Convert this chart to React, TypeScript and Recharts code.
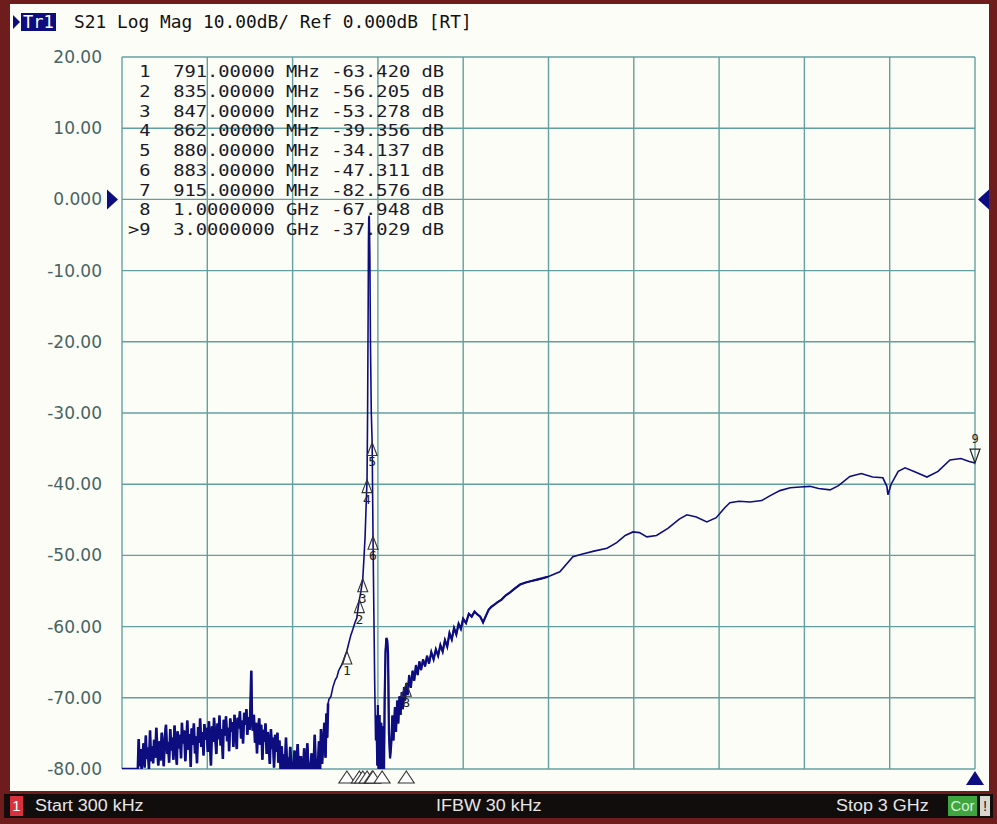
import React from 'react'
import { ComposedChart, Line, Scatter, XAxis, YAxis, CartesianGrid, ReferenceDot } from 'recharts'

// S21 sweep: [frequency MHz, magnitude dB]
const noiseFloor: [number, number][] = [
  [0.3, -80], [45, -80], [56, -80], [59, -75.8], [62, -79.6], [66, -77.2], [69, -80], [73, -78.1],
  [76, -76.4], [80, -79.8], [84, -75.3], [87, -78.6], [91, -77], [95, -80], [99, -74.6], [102, -78.9],
  [106, -76.8], [110, -79.2], [113, -75.9], [117, -78.4], [121, -74.2], [125, -77.6], [128, -79.5],
  [132, -76.1], [136, -78.8], [140, -74.9], [144, -77.3], [147, -79.6], [151, -75.5], [155, -73.8],
  [159, -77.9], [162, -76.2], [166, -79.1], [170, -74.4], [174, -77.4], [177, -75.6], [181, -78.7],
  [185, -73.9], [189, -76.8], [193, -79.4], [196, -74.7], [200, -77.1], [204, -75.2], [208, -78.5],
  [211, -73.5], [215, -76.4], [219, -74.6], [223, -78.9], [227, -75.8], [230, -73.2], [234, -77.3],
  [238, -75.1], [242, -79.7], [245, -74.3], [249, -76.6], [253, -73.6], [257, -77.8], [260, -75.4],
  [264, -79.2], [268, -74.1], [272, -76.3], [275, -72.9], [279, -76.9], [283, -74.8], [287, -78.1],
  [290, -73.7], [294, -75.9], [298, -74.2], [302, -77.6], [306, -73.3], [309, -75.6], [313, -79.5],
  [317, -74], [321, -76.2], [324, -72.8], [328, -75.4], [332, -77.9], [336, -73.6], [340, -75.8],
  [343, -72.5], [347, -76.7], [351, -74.4], [355, -78.6], [358, -73.1], [362, -75.3], [366, -72.6],
  [370, -76.1], [374, -74.2], [377, -77.5], [381, -72.9], [385, -74.8], [389, -73.4], [392, -76.9],
  [396, -72.4], [400, -74.6], [404, -77.2], [407, -72.8], [411, -74.3], [415, -71.9], [419, -75.7],
  [423, -73.2], [426, -76.4], [430, -72.1], [434, -73.8], [438, -71.6], [441, -75.2], [445, -72.7],
  [449, -74.5], [452, -71.3], [455, -66.2], [457, -72.9], [460, -74.6], [464, -72.4], [468, -76.3],
  [471, -73.5], [475, -77.8], [479, -74.2], [483, -72.9], [486, -76.6], [490, -73.8], [494, -78.7],
  [498, -74.5], [501, -76.2], [505, -73.6], [509, -77.9], [513, -74.8], [516, -76.1], [520, -79.3],
  [524, -74.4], [528, -77.2], [531, -75.6], [535, -79.8], [539, -75.2], [543, -77.6], [547, -74.9],
  [550, -79.1], [554, -76], [558, -80], [562, -76.8], [565, -80], [569, -77.9], [573, -80],
  [577, -75.6], [581, -80], [584, -78.4], [588, -80], [592, -76.9], [596, -80], [599, -79],
  [603, -80], [607, -77.4], [611, -80], [614, -80], [618, -76.5], [622, -80], [626, -80.8],
  [629, -78.2], [633, -80], [637, -80], [641, -77.1], [644, -80], [648, -80], [652, -76.4],
  [656, -80], [659, -79.2], [663, -80], [667, -77.8], [671, -80], [674, -80], [678, -75.2],
  [682, -80], [686, -78.6], [689, -80], [693, -76.1], [697, -80], [700, -74.4], [704, -79.3],
  [708, -76.2], [712, -73.5], [716, -78.4], [719, -72.2], [722, -75.6], [725, -70.8],
]

const filterSkirt: [number, number][] = [
  [728, -70.2], [735, -69.8], [742, -68.5], [750, -67.5], [756, -67.1], [762, -66.2], [770, -65.6],
  [777, -65.1], [784, -64.2], [791, -63.42], [798, -62.3], [805, -61.2], [812, -60.4], [820, -59.4],
  [826, -58.8], [830, -57.6], [835, -56.205], [840, -55.2], [847, -53.278], [851, -50.5],
  [855, -47.5], [858, -44], [862, -39.356], [864, -30], [866, -15], [867, -6], [868, -2.6],
  [870, -2.3], [872, -8], [874, -20], [877, -30], [880, -34.137], [883, -47.311], [886, -58],
  [889, -68], [892, -76],
]

const stopbandNoise: [number, number][] = [
  [895, -72.5], [898, -79.5], [900, -71], [903, -81], [906, -72.4], [909, -83], [912, -73.5],
  [915, -82.576], [918, -74], [921, -84], [924, -70], [927, -63.5], [930, -61.6], [933, -61.9],
  [936, -63.8], [939, -75], [943, -78.5], [947, -76.6], [951, -72.5], [955, -76], [960, -71.3],
  [964, -74.8], [968, -70.4], [972, -73.6], [976, -69.8], [980, -72.4], [984, -69.2], [988, -71.6],
  [992, -68.5], [996, -70.4], [1000, -67.948], [1005, -69.6], [1010, -66.8], [1016, -68.6],
  [1022, -66.2], [1028, -67.6], [1034, -65.4], [1040, -66.8], [1046, -64.9], [1052, -66.1],
  [1059, -64.6], [1066, -65.6], [1073, -64.1], [1080, -65.2], [1088, -63.6], [1096, -64.6],
  [1104, -63.2], [1112, -64.1], [1120, -62.6], [1128, -63.5], [1136, -61.9], [1144, -62.8],
  [1152, -60.9], [1160, -61.8], [1168, -60.2], [1176, -61.1], [1184, -59.6], [1192, -60.3],
  [1200, -58.9], [1210, -59.5], [1220, -58.2], [1230, -58.6], [1240, -57.9], [1250, -58.3],
  [1260, -58.6], [1270, -59.4], [1280, -58.5], [1290, -57.6], [1300, -57.2], [1310, -56.9],
  [1320, -56.6], [1335, -56.2], [1350, -55.6], [1365, -55.2], [1380, -54.7], [1400, -54.1],
  [1420, -53.8], [1440, -53.6], [1460, -53.4], [1480, -53.2], [1498, -53],
]

const upperRise: [number, number][] = [
  [1540, -52.3], [1586, -50.2], [1620, -49.8], [1660, -49.4], [1706, -49], [1740, -48.2],
  [1770, -47.2], [1797, -46.7], [1820, -46.8], [1846, -47.4], [1880, -47.2], [1920, -46.2],
  [1960, -44.9], [1987, -44.3], [2020, -44.6], [2057, -45.3], [2090, -44.7], [2120, -43.3],
  [2138, -42.6], [2170, -42.4], [2209, -42.5], [2250, -42.3], [2280, -41.6], [2314, -40.9],
  [2350, -40.5], [2385, -40.4], [2420, -40.3], [2450, -40.6], [2490, -40.8], [2520, -40.2],
  [2560, -38.9], [2600, -38.5], [2640, -39], [2676, -39.1], [2690, -40.3], [2694, -41.5],
  [2705, -40], [2730, -38.2], [2754, -37.7], [2790, -38.3], [2831, -39], [2870, -38.2],
  [2912, -36.6], [2950, -36.4], [2980, -36.8], [3000, -37.029],
]

const toPoints = (rows: [number, number][]) => rows.map(([f, db]) => ({ f, db }))
const trace = toPoints([...noiseFloor, ...filterSkirt, ...stopbandNoise, ...upperRise])
const noisyLow = toPoints(noiseFloor)
const noisyHigh = toPoints(stopbandNoise)

const markerIds = ['1', '2', '3', '4', '5', '6', '7', '8', '9']
const markerFreqs = [791, 835, 847, 862, 880, 883, 915, 1000, 3000]
const markerDb = [-63.42, -56.205, -53.278, -39.356, -34.137, -47.311, -82.576, -67.948, -37.029]
const markerFreqText = ['791.00000', '835.00000', '847.00000', '862.00000', '880.00000', '883.00000', '915.00000', '1.0000000', '3.0000000']
const markerUnits = ['MHz', 'MHz', 'MHz', 'MHz', 'MHz', 'MHz', 'MHz', 'GHz', 'GHz']
const markerDbText = ['-63.420', '-56.205', '-53.278', '-39.356', '-34.137', '-47.311', '-82.576', '-67.948', '-37.029']

const yTicks = [20, 10, 0, -10, -20, -30, -40, -50, -60, -70, -80]
const yTickLabels = ['20.00', '10.00', '0.000', '-10.00', '-20.00', '-30.00', '-40.00', '-50.00', '-60.00', '-70.00', '-80.00']
const xGridTicks = [0.3, 300.27, 600.24, 900.21, 1200.18, 1500.15, 1800.12, 2100.09, 2400.06, 2700.03, 3000]

const ACTIVE = '9'
const onTrace = markerFreqs
  .map((f, i) => ({ f, db: markerDb[i], id: markerIds[i] }))
  .filter(m => m.db >= -80)
const onAxis = markerFreqs.map((f, i) => ({ f, db: -80, id: markerIds[i] }))

const NAVY = '#0d0d80'
const GRID = '#62a0a0'
const mono = '"DejaVu Sans Mono", monospace'

const YTick = (props: any) => {
  const { y, payload } = props
  const label = yTickLabels[yTicks.indexOf(payload.value)]
  return (
    <text x={102} y={y} textAnchor="end" dominantBaseline="central"
      fontFamily='"DejaVu Sans", sans-serif' fontSize={17} fill="#466464">
      {label}
    </text>
  )
}

const TraceMarker = (props: any) => {
  const { cx, cy, payload } = props
  if (payload.id === ACTIVE) {
    return (
      <g>
        <path d={`M${cx - 5},${cy - 14} L${cx + 5},${cy - 14} L${cx},${cy} Z`} fill="none" stroke="#222" strokeWidth={1.2} />
        <text x={cx} y={cy - 20} textAnchor="middle" fontFamily={mono} fontSize={12} fill="#222">{payload.id}</text>
      </g>
    )
  }
  return (
    <g>
      <path d={`M${cx},${cy} L${cx - 5},${cy + 13} L${cx + 5},${cy + 13} Z`} fill="none" stroke="#333" strokeWidth={1.1} />
      <text x={cx} y={cy + 24} textAnchor="middle" fontFamily={mono} fontSize={13} fill="#222">{payload.id}</text>
    </g>
  )
}

const AxisMarker = (props: any) => {
  const { cx, cy, payload } = props
  if (payload.id === ACTIVE) {
    return <path d={`M${cx},${cy + 2} L${cx - 9},${cy + 16} L${cx + 9},${cy + 16} Z`} fill={NAVY} />
  }
  return <path d={`M${cx},${cy + 2} L${cx - 8},${cy + 14} L${cx + 8},${cy + 14} Z`} fill="#fff" stroke="#333" strokeWidth={1.1} />
}

const LeftRef = (props: any) => {
  const { cx, cy } = props
  return <path d={`M${cx - 15},${cy - 10} L${cx - 4},${cy} L${cx - 15},${cy + 10} Z`} fill={NAVY} />
}

const RightRef = (props: any) => {
  const { cx, cy } = props
  return <path d={`M${cx + 14},${cy - 10} L${cx + 3},${cy} L${cx + 14},${cy + 10} Z`} fill={NAVY} />
}

export default function App() {
  return (
    <div style={{ position: 'fixed', left: 0, top: 0, width: 997, height: 824, background: '#6e1c1c', overflow: 'hidden' }}>
      <div style={{ position: 'absolute', left: 10, top: 4, width: 979, height: 787, background: '#fdfdf7' }} />

      <div style={{ position: 'absolute', left: 0, top: 0 }}>
        <ComposedChart width={997} height={824} margin={{ top: 57, right: 22, bottom: 55, left: 10 }}>
          <CartesianGrid stroke={GRID} strokeWidth={1.4} horizontalValues={yTicks} verticalValues={xGridTicks} />
          <XAxis dataKey="f" type="number" domain={[0.3, 3000]} ticks={xGridTicks} hide />
          <YAxis type="number" domain={[-80, 20]} ticks={yTicks} width={112} axisLine={false} tickLine={false}
            tick={<YTick />} allowDataOverflow interval={0} />
          <YAxis yAxisId="marks" type="number" domain={[-80, 20]} hide />
          <Line data={trace} dataKey="db" stroke={NAVY} strokeWidth={1.6} dot={false} isAnimationActive={false} />
          <Line data={noisyLow} dataKey="db" stroke={NAVY} strokeWidth={2.6} dot={false} isAnimationActive={false} />
          <Line data={noisyHigh} dataKey="db" stroke={NAVY} strokeWidth={2.2} dot={false} isAnimationActive={false} />
          <Scatter yAxisId="marks" data={onTrace} dataKey="db" shape={<TraceMarker />} isAnimationActive={false} />
          <Scatter yAxisId="marks" data={onAxis} dataKey="db" shape={<AxisMarker />} isAnimationActive={false} />
          <ReferenceDot yAxisId="marks" x={0.3} y={0} shape={<LeftRef />} />
          <ReferenceDot yAxisId="marks" x={3000} y={0} shape={<RightRef />} />
        </ComposedChart>
      </div>

      {/* header */}
      <div style={{ position: 'absolute', left: 12, top: 12, height: 20, display: 'flex', alignItems: 'center', fontFamily: mono, fontSize: 17, color: '#111', whiteSpace: 'pre' }}>
        <svg width={9} height={16}><path d="M1,1 L8,8 L1,15 Z" fill={NAVY} /></svg>
        <span style={{ background: NAVY, color: '#fff', padding: '0 2px', marginRight: 18, lineHeight: '18px' }}>Tr1</span>
        <span style={{ display: 'inline-block', transform: 'scaleX(1.05)', transformOrigin: 'left' }}>S21 Log Mag 10.00dB/ Ref 0.000dB [RT]</span>
      </div>

      {/* marker readout table */}
      {markerIds.map((id, i) => (
        <div key={id} style={{
          position: 'absolute', left: 128, top: 63 + i * 19.75, fontFamily: mono, fontSize: 15, lineHeight: '18px',
          color: '#1a1a2a', whiteSpace: 'pre', transform: 'scaleX(1.25)', transformOrigin: 'left',
        }}>
          {`${(id === ACTIVE ? '>' + id : id).padStart(2)}  ${markerFreqText[i]} ${markerUnits[i]} ${markerDbText[i]} dB`}
        </div>
      ))}

      {/* status bar */}
      <div style={{ position: 'absolute', left: 4, top: 794, width: 989, height: 24, background: '#120d0d', fontFamily: '"Liberation Sans", Arial, sans-serif', fontSize: 16, color: '#e6e6e6' }}>
        <div style={{ position: 'absolute', left: 6, top: 2, width: 13, height: 20, background: '#d8303c', color: '#fff', fontSize: 15, textAlign: 'center', lineHeight: '20px' }}>1</div>
        <div style={{ position: 'absolute', left: 31, top: 3, transform: 'scaleX(1.12)', transformOrigin: 'left' }}>Start 300 kHz</div>
        <div style={{ position: 'absolute', left: 432, top: 3, transform: 'scaleX(1.12)', transformOrigin: 'left' }}>IFBW 30 kHz</div>
        <div style={{ position: 'absolute', left: 832, top: 3, transform: 'scaleX(1.12)', transformOrigin: 'left' }}>Stop 3 GHz</div>
        <div style={{ position: 'absolute', left: 944, top: 2, width: 29, height: 20, background: '#3fa63f', color: '#d6f0d6', fontSize: 15, textAlign: 'center', lineHeight: '20px' }}>Cor</div>
        <div style={{ position: 'absolute', left: 976, top: 2, width: 10, height: 20, background: '#d8d8d0', color: '#222', fontSize: 15, textAlign: 'center', lineHeight: '20px' }}>!</div>
      </div>
    </div>
  )
}
